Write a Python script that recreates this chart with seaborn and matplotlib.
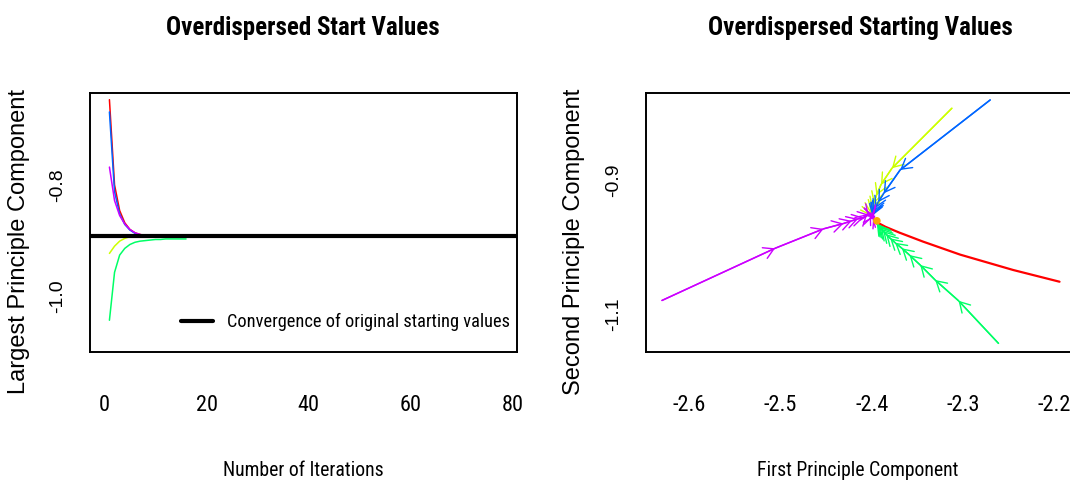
import matplotlib
matplotlib.use("Agg")
import matplotlib.pyplot as plt
import seaborn as sns
import pandas as pd
from matplotlib.lines import Line2D
from matplotlib import font_manager

# ---- left panel: largest principal component per iteration ----
chain_names = ["red", "blue", "magenta", "yellow", "green"]
chain_colors = ["#FF0000", "#0066FF", "#CC00FF", "#CCFF00", "#00FF66"]

lpc_red = [-0.647, -0.800, -0.846, -0.868, -0.880, -0.886, -0.889, -0.891]
lpc_blue = [-0.669, -0.812, -0.852, -0.871, -0.881, -0.887, -0.890, -0.891]
lpc_magenta = [-0.768, -0.828, -0.855, -0.870, -0.880, -0.886, -0.889, -0.891]
lpc_yellow = [-0.923, -0.910, -0.901, -0.896, -0.893]
lpc_green = [-1.043, -0.957, -0.926, -0.914, -0.907, -0.903, -0.901, -0.900,
             -0.899, -0.898, -0.898, -0.897, -0.897, -0.897, -0.897, -0.897]
converged_value = -0.892

# ---- right panel: paths in (PC1, PC2) space ----
pc1_magenta = [-2.630, -2.506, -2.453, -2.431, -2.422, -2.415, -2.409, -2.405,
               -2.403, -2.401, -2.400, -2.399, -2.398, -2.397]
pc2_magenta = [-1.079, -1.001, -0.972, -0.964, -0.960, -0.957, -0.955, -0.950,
               -0.953, -0.948, -0.956, -0.951, -0.955, -0.953]
pc1_blue = [-2.2703, -2.369, -2.387, -2.393, -2.396, -2.3975, -2.3985, -2.399,
            -2.3993, -2.3995]
pc2_blue = [-0.7794, -0.884, -0.919, -0.932, -0.941, -0.946, -0.949, -0.951,
            -0.952, -0.953]
pc1_yellow = [-2.3123, -2.378, -2.390, -2.395, -2.398, -2.400, -2.401, -2.401,
              -2.4005, -2.400]
pc2_yellow = [-0.7918, -0.8815, -0.906, -0.922, -0.934, -0.942, -0.947, -0.950,
              -0.952, -0.953]
pc1_green = [-2.2612, -2.3050, -2.3306, -2.3470, -2.3588, -2.3671, -2.3745,
             -2.3799, -2.3843, -2.3876, -2.3900, -2.3918, -2.3931, -2.3940,
             -2.3946]
pc2_green = [-1.1431, -1.0794, -1.0484, -1.0260, -1.0111, -1.0010, -0.9927,
             -0.9861, -0.9800, -0.9752, -0.9715, -0.9688, -0.9668, -0.9653,
             -0.9642]
pc1_red = [-2.1943, -2.2450, -2.3032, -2.3440, -2.3700, -2.3850, -2.3920,
           -2.3945]
pc2_red = [-1.0510, -1.0335, -1.0105, -0.9910, -0.9775, -0.9690, -0.9640,
           -0.9610]
final_pc1 = [-2.3945]
final_pc2 = [-0.9600]

left_xticks = [0, 20, 40, 60, 80]
left_yticks = [-0.7, -0.8, -0.9, -1.0]
left_yticklabels = ["", "-0.8", "", "-1.0"]
right_xticks = [-2.6, -2.5, -2.4, -2.3, -2.2]
right_yticks = [-0.8, -0.9, -1.0, -1.1]
right_yticklabels = ["", "-0.9", "", "-1.1"]

sns.set_style("white")

installed = {f.name for f in font_manager.fontManager.ttflist}
narrow_pref = ["Liberation Sans Narrow", "Roboto Condensed", "DejaVu Sans Condensed",
               "Liberation Sans", "Roboto"]
NARROW = [f for f in narrow_pref if f in installed] + ["DejaVu Sans"]
REGULAR = [f for f in ["Liberation Sans"] if f in installed] + ["DejaVu Sans"]
plt.rcParams["font.family"] = NARROW
plt.rcParams["text.color"] = "black"
plt.rcParams["axes.labelcolor"] = "black"

W, H = 1070, 487
fig = plt.figure(figsize=(W / 100, H / 100), dpi=100)
ax1 = fig.add_axes([89.5 / W, (H - 352) / H, 427.2 / W, 259 / H])
ax2 = fig.add_axes([646 / W, (H - 352) / H, 428.4 / W, 259 / H])

# left panel data frame
lpc = {"red": lpc_red, "blue": lpc_blue, "magenta": lpc_magenta,
       "yellow": lpc_yellow, "green": lpc_green}
rows = []
for name in chain_names:
    for i, v in enumerate(lpc[name], start=1):
        rows.append({"chain": name, "iteration": i, "value": v})
df_left = pd.DataFrame(rows)
palette = dict(zip(chain_names, chain_colors))

sns.lineplot(data=df_left, x="iteration", y="value", hue="chain",
             palette=palette, ax=ax1, legend=False, linewidth=1.1,
             estimator=None, sort=False)
ax1.axhline(converged_value, color="black", linewidth=3)
ax1.set_xlim(-2.9, 80.7)
ax1.set_ylim(-1.100, -0.635)
ax1.set_xticks(left_xticks)
ax1.set_xticklabels([str(t) for t in left_xticks])
ax1.set_yticks(left_yticks)
ax1.set_yticklabels(left_yticklabels)
leg = ax1.legend(handles=[Line2D([0], [0], color="black", lw=3)],
                 labels=["Convergence of original starting values"],
                 loc="center right", bbox_to_anchor=(0.985, 0.116),
                 frameon=False, fontsize=13.2, handlelength=1.7,
                 handletextpad=0.8, borderaxespad=0, borderpad=0)

# right panel paths
paths = {
    "magenta": (pc1_magenta, pc2_magenta, True),
    "blue": (pc1_blue, pc2_blue, True),
    "yellow": (pc1_yellow, pc2_yellow, True),
    "red": (pc1_red, pc2_red, False),
    "green": (pc1_green, pc2_green, True),
}
for name in ["red", "yellow", "blue", "magenta", "green"]:
    xs, ys, heads = paths[name]
    col = palette[name]
    d = pd.DataFrame({"pc1": xs, "pc2": ys})
    sns.lineplot(data=d, x="pc1", y="pc2", ax=ax2, color=col,
                 linewidth=1.6 if name == "red" else 1.1,
                 estimator=None, sort=False)
    if heads:
        for k in range(1, len(xs)):
            ax2.annotate("", xy=(xs[k], ys[k]), xytext=(xs[k - 1], ys[k - 1]),
                         arrowprops=dict(arrowstyle="->,head_length=7.2,head_width=4.2",
                                         color=col, lw=1.0, shrinkA=0, shrinkB=0,
                                         mutation_scale=1))
sns.scatterplot(x=final_pc1, y=final_pc2, ax=ax2, color="#FFA500", s=30,
                edgecolor="none", zorder=5)
ax2.set_xlim(-2.6475, -2.178)
ax2.set_ylim(-1.156, -0.769)
ax2.set_xticks(right_xticks)
ax2.set_xticklabels([f"{t:.1f}" for t in right_xticks])
ax2.set_yticks(right_yticks)
ax2.set_yticklabels(right_yticklabels)

for ax in (ax1, ax2):
    ax.set_xlabel("")
    ax.set_ylabel("")
    for s in ax.spines.values():
        s.set_visible(True)
        s.set_color("black")
        s.set_linewidth(1.4)
    ax.tick_params(axis="both", direction="out", length=7, width=1.1,
                   color="black", labelsize=16, labelcolor="black")
    ax.tick_params(axis="x", pad=24)
    ax.tick_params(axis="y", pad=10)
    for lab in ax.get_yticklabels():
        lab.set_rotation(90)
        lab.set_va("center")
        lab.set_family(REGULAR)
        lab.set_fontsize(14)

# titles and axis labels
fig.text(303 / W, 1 - 28 / H, "Overdispersed Start Values", ha="center",
         va="center", fontsize=18, fontweight="bold")
fig.text(860 / W, 1 - 28 / H, "Overdispersed Starting Values", ha="center",
         va="center", fontsize=18, fontweight="bold")
fig.text(303 / W, 1 - 471 / H, "Number of Iterations", ha="center",
         va="center", fontsize=14.2)
fig.text(858 / W, 1 - 471 / H, "First Principle Component", ha="center",
         va="center", fontsize=14.2)
fig.text(19 / W, 1 - 242 / H, "Largest Principle Component", ha="center",
         va="center", rotation=90, fontsize=17, family=REGULAR)
fig.text(574 / W, 1 - 242 / H, "Second Principle Component", ha="center",
         va="center", rotation=90, fontsize=17, family=REGULAR)

fig.savefig("out.png", dpi=100)
